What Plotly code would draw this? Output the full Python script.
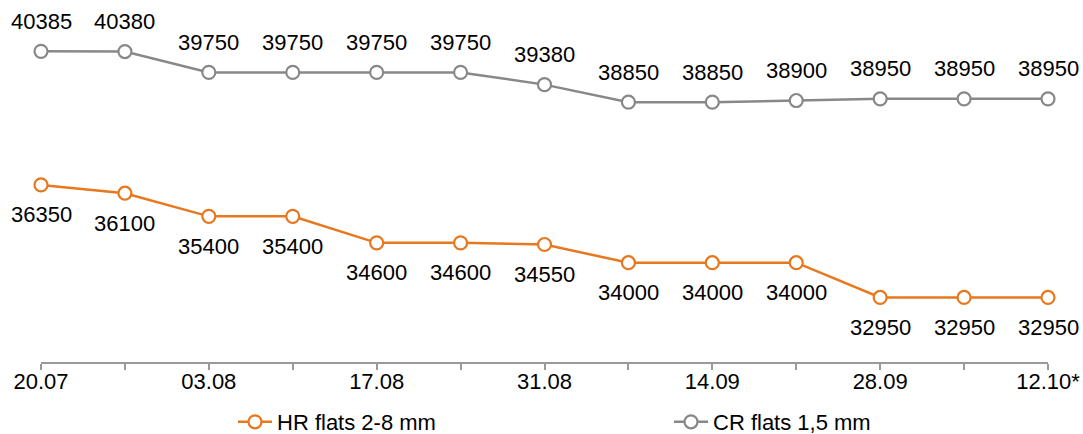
import plotly.graph_objects as go

# Weekly price points (20.07 .. 12.10)
dates = ["20.07", "27.07", "03.08", "10.08", "17.08", "24.08", "31.08",
         "07.09", "14.09", "21.09", "28.09", "05.10", "12.10*"]
tick_labels = ["20.07", "", "03.08", "", "17.08", "", "31.08",
               "", "14.09", "", "28.09", "", "12.10*"]
hr_flats = [36350, 36100, 35400, 35400, 34600, 34600, 34550,
            34000, 34000, 34000, 32950, 32950, 32950]
cr_flats = [40385, 40380, 39750, 39750, 39750, 39750, 39380,
            38850, 38850, 38900, 38950, 38950, 38950]

ORANGE = "#E8771E"
GREY = "#888888"
FONT = "Liberation Sans, Arial, sans-serif"

x = list(range(len(dates)))

fig = go.Figure()

fig.add_trace(go.Scatter(
    x=x, y=hr_flats, mode="lines+markers", name="HR flats 2-8 mm",
    line=dict(color=ORANGE, width=2.5),
    marker=dict(size=13, color="white", line=dict(color=ORANGE, width=2.2)),
    cliponaxis=False, legend="legend",
))
fig.add_trace(go.Scatter(
    x=x, y=cr_flats, mode="lines+markers", name="CR flats 1,5 mm",
    line=dict(color=GREY, width=2.5),
    marker=dict(size=13, color="white", line=dict(color=GREY, width=2.2)),
    cliponaxis=False, legend="legend2",
))

# Value labels: CR above its points, HR below
for xi, v in zip(x, cr_flats):
    fig.add_annotation(x=xi, y=v, text=str(v), showarrow=False,
                       yanchor="middle", yshift=30,
                       font=dict(family=FONT, size=22, color="black"))
for xi, v in zip(x, hr_flats):
    fig.add_annotation(x=xi, y=v, text=str(v), showarrow=False,
                       yanchor="middle", yshift=-30,
                       font=dict(family=FONT, size=22, color="black"))

W, H = 1083, 434
L, R = 41, 35

legend_common = dict(
    orientation="h", yanchor="middle", xanchor="left",
    yref="container", xref="container",
    font=dict(family=FONT, size=22, color="black"),
    itemwidth=34, bgcolor="rgba(0,0,0,0)", borderwidth=0,
)

fig.update_layout(
    width=W, height=H,
    margin=dict(l=L, r=R, t=0, b=72),
    paper_bgcolor="white", plot_bgcolor="white",
    font=dict(family=FONT, size=22, color="black"),
    showlegend=True,
    legend=dict(x=233 / W, y=1 - 422 / H, **legend_common),
    legend2=dict(x=669 / W, y=1 - 422 / H, **legend_common),
    xaxis=dict(
        range=[0, len(dates) - 1], tickmode="array", tickvals=x,
        ticktext=tick_labels, showgrid=False, zeroline=False,
        showline=True, linecolor="#9A9A9A", linewidth=1.5,
        ticks="outside", ticklen=6, tickcolor="#9A9A9A", tickwidth=1.5,
        ticklabelstandoff=-7,
        tickfont=dict(family=FONT, size=22, color="black"),
        fixedrange=True,
    ),
    yaxis=dict(
        range=[31000, 41937], visible=False, showgrid=False,
        zeroline=False, fixedrange=True,
    ),
)

fig.write_html("out.html")
